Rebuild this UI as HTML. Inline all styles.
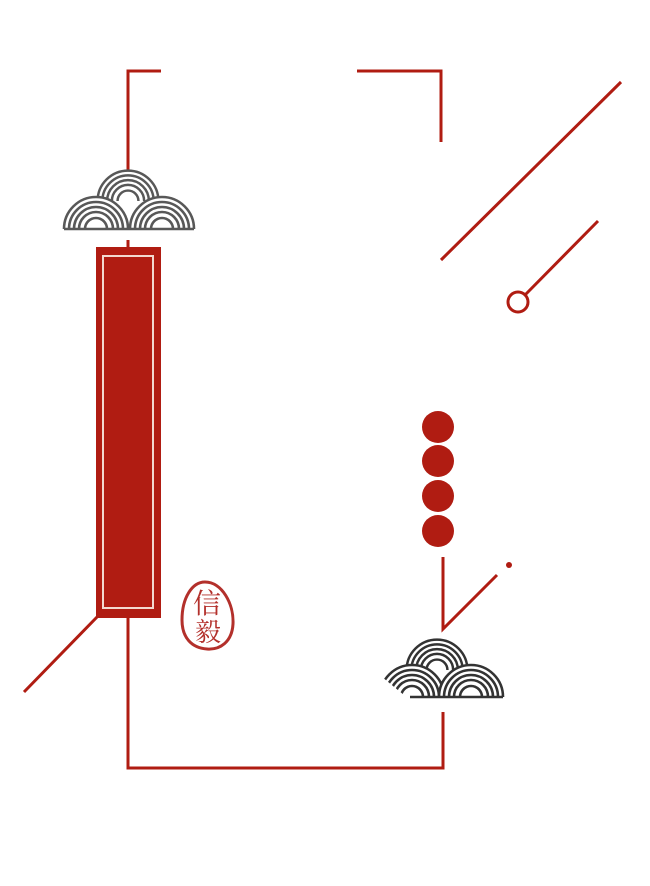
<!DOCTYPE html>
<html><head><meta charset="utf-8"><style>html,body{margin:0;padding:0;background:#fff}svg{display:block}</style></head>
<body>
<svg width="650" height="886" viewBox="0 0 650 886" xmlns="http://www.w3.org/2000/svg">
<defs>
<g id="arcs">
 <path d="M-32 0 A32 32 0 0 1 32 0" />
 <path d="M-27 0 A27 27 0 0 1 27 0" />
 <path d="M-22 0 A22 22 0 0 1 22 0" />
 <path d="M-17 0 A17 17 0 0 1 17 0" />
 <path d="M-11 0 A11 11 0 0 1 11 0" />
</g>
<clipPath id="lc"><polygon points="360,630 520,630 520,700 410,700 376,672"/></clipPath>
</defs>
<g fill="none" stroke="#b01c12" stroke-width="3">
 <polyline points="161,71 128,71 128,172"/>
 <line x1="128" y1="240" x2="128" y2="248"/>
 <polyline points="357,71 441,71 441,142"/>
 <line x1="441" y1="260" x2="621" y2="82"/>
 <line x1="598" y1="221" x2="525" y2="295"/>
 <circle cx="518" cy="302" r="10"/>
 <line x1="98" y1="616" x2="24" y2="692"/>
 <polyline points="128,618 128,768 443,768 443,712"/>
 <polyline points="443,557 443,629 497,575"/>
</g>
<circle cx="509" cy="565" r="3" fill="#b01c12"/>
<g fill="#b01c12">
 <circle cx="438" cy="427" r="16"/>
 <circle cx="438" cy="461" r="16"/>
 <circle cx="438" cy="496" r="16"/>
 <circle cx="438" cy="531" r="16"/>
</g>
<rect x="96" y="247" width="65" height="371" fill="#b01c12"/>
<rect x="103" y="256" width="50" height="352" fill="none" stroke="#f3d9d0" stroke-width="2"/>
<!-- top cloud -->
<g stroke="#585858" stroke-width="2.6" fill="#fff">
 <g transform="translate(128,201) scale(0.95)"><path d="M-32 0 A32 32 0 0 1 32 0Z" stroke="none"/><use href="#arcs"/></g>
 <g transform="translate(96,229)"><path d="M-32 0 A32 32 0 0 1 32 0Z" stroke="none"/><use href="#arcs"/></g>
 <g transform="translate(162,229)"><path d="M-32 0 A32 32 0 0 1 32 0Z" stroke="none"/><use href="#arcs"/></g>
 <line x1="64" y1="229" x2="194" y2="229"/>
</g>
<!-- bottom cloud -->
<g stroke="#333" stroke-width="2.6" fill="#fff">
 <g transform="translate(437,670) scale(0.95)"><path d="M-32 0 A32 32 0 0 1 32 0Z" stroke="none"/><use href="#arcs"/></g>
 <g clip-path="url(#lc)"><g transform="translate(412,697)"><path d="M-32 0 A32 32 0 0 1 32 0Z" stroke="none"/><use href="#arcs"/></g></g>
 <g transform="translate(471,697)"><path d="M-32 0 A32 32 0 0 1 32 0Z" stroke="none"/><use href="#arcs"/></g>
 <line x1="410" y1="697" x2="503" y2="697"/>
</g>
<!-- seal -->
<path d="M205 582 C222 582 234 604 233 624 C232 642 220 650 207 649 C192 648 182 638 182 620 C182 598 192 582 205 582Z" fill="none" stroke="#b3302b" stroke-width="3"/>
<text x="207" y="613" text-anchor="middle" font-family="'Liberation Sans','Noto Serif CJK SC',serif" font-size="28" fill="#b3302b">信</text>
<text x="208" y="641" text-anchor="middle" font-family="'Liberation Sans','Noto Serif CJK SC',serif" font-size="26" fill="#b3302b">毅</text>
</svg>
</body></html>
